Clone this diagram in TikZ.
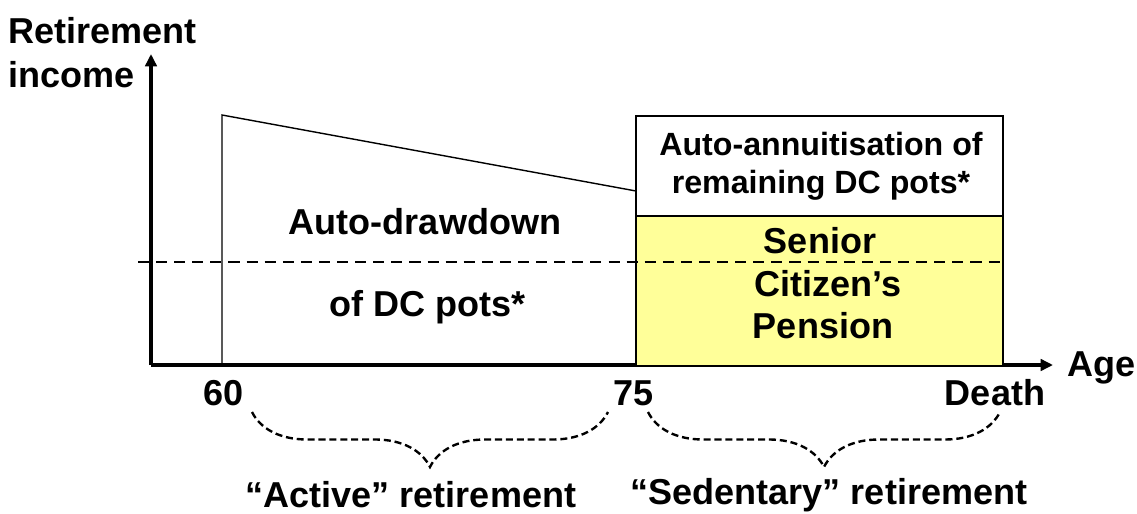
\documentclass[tikz,border=0pt]{standalone}
\usepackage{fontspec}
\setmainfont{Liberation Sans}
\usetikzlibrary{arrows.meta,decorations.pathreplacing}
\definecolor{pensionyellow}{RGB}{255,255,153}

\begin{document}
\begin{tikzpicture}[x=0.02cm,y=-0.02cm,
    lbl/.style={font=\bfseries\fontsize{20.5}{24.5}\selectfont, inner sep=0pt, align=center},
    smalllbl/.style={font=\bfseries\fontsize{18.3}{21}\selectfont, inner sep=0pt, align=center},
    axisline/.style={line width=2.2pt, -{Triangle[length=7pt,width=6.5pt]}},
    thinline/.style={line width=0.8pt},
    bracedash/.style={dashed, dash pattern=on 4pt off 2.2pt, line width=1.35pt,
      decorate, decoration={brace, mirror, amplitude=1.1cm}}]
    \useasboundingbox (0,0) rectangle (1137,514);

    % Axes
    \coordinate (origin) at (151,365);
    \coordinate (ytop) at (151,54);
    \coordinate (xend) at (1053,365);
    \draw[axisline] (origin) -- (ytop);
    \draw[axisline] (origin) -- (xend);

    % Senior Citizen's Pension block
    \fill[pensionyellow] (636,216) rectangle (1003,365);

    % Target level
    \draw[dashed, dash pattern=on 6.3pt off 4pt, line width=1.25pt] (138,262) -- (1003,262);

    % Auto-drawdown area
    \draw[thinline] (222,365) -- (222,115) -- (636,191);

    % Annuity and pension boxes
    \draw[thinline] (636,365) -- (636,116) -- (1003,116) -- (1003,365);
    \draw[thinline] (636,216) -- (1003,216);

    % Labels
    \node[lbl, anchor=west] (ylabA) at (8,31) {Retirement};
    \node[lbl, anchor=west] (ylabB) at (8,75) {income};
    \node[lbl, anchor=west] (xlab) at (1067,368) {Age};

    \node[lbl] (draw1) at (425,222) {Auto-drawdown};
    \node[lbl] (draw2) at (428,307) {of DC pots*};
    \node[smalllbl] (annuity) at (821,166) {Auto-annuitisation of\\[0.5pt]remaining DC pots*};
    \node[lbl] (scp1) at (820,241) {Senior};
    \node[lbl] (scp2) at (828,284) {Citizen's};
    \node[lbl] (scp3) at (823,326) {Pension};

    \node[lbl] (age60) at (224,393) {60};
    \node[lbl] (age75) at (634,393) {75};
    \node[lbl] (death) at (995,393) {Death};

    % Retirement phases
    \coordinate (actL) at (252,412);
    \coordinate (actR) at (608,412);
    \coordinate (sedL) at (648,412);
    \coordinate (sedR) at (1000,412);
    \draw[bracedash] (actL) -- (actR);
    \draw[bracedash] (sedL) -- (sedR);

    \node[lbl] (active) at (411,495) {``Active'' retirement};
    \node[lbl] (sedentary) at (829,495) {``Sedentary'' retirement};
\end{tikzpicture}
\end{document}
